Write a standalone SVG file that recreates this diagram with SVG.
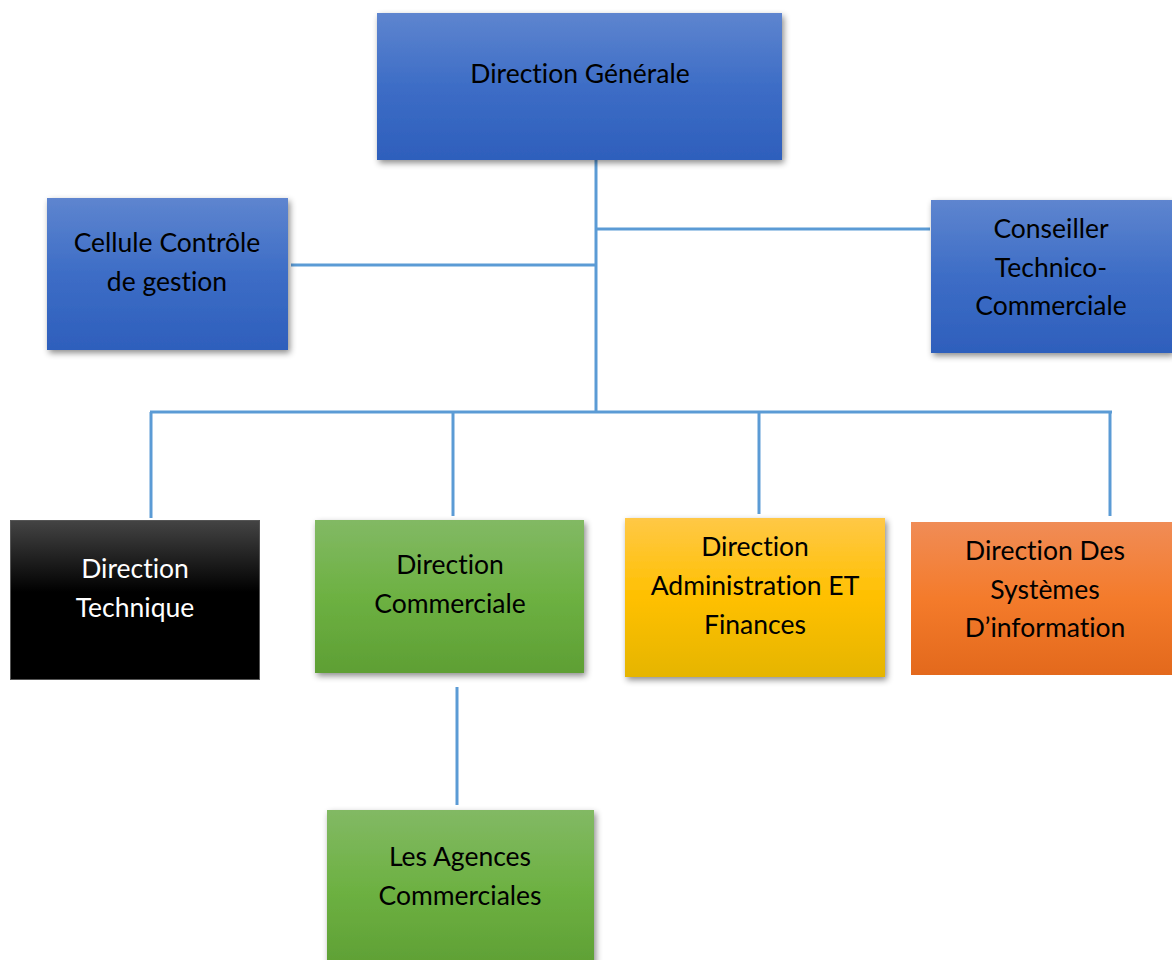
<svg xmlns="http://www.w3.org/2000/svg" width="1172" height="960" viewBox="0 0 1172 960">
<style>
.t{font-family:Lato,"Open Sans","Liberation Sans",sans-serif;font-size:26.5px;text-anchor:middle;fill:#000;font-variant-ligatures:none;font-feature-settings:"liga" 0}
.w{fill:#fff}
.c{stroke:#5B9BD5;stroke-width:3;fill:none}
</style>
<defs>
<linearGradient id="blue" x1="0" y1="0" x2="0" y2="1"><stop offset="0" stop-color="#5E85CF"/><stop offset="0.5" stop-color="#3D6DC6"/><stop offset="1" stop-color="#2E5FBC"/></linearGradient>
<linearGradient id="green" x1="0" y1="0" x2="0" y2="1"><stop offset="0" stop-color="#82B964"/><stop offset="0.5" stop-color="#6DB142"/><stop offset="1" stop-color="#5E9F34"/></linearGradient>
<linearGradient id="yellow" x1="0" y1="0" x2="0" y2="1"><stop offset="0" stop-color="#FFC846"/><stop offset="0.5" stop-color="#FFC000"/><stop offset="1" stop-color="#E5B502"/></linearGradient>
<linearGradient id="orange" x1="0" y1="0" x2="0" y2="1"><stop offset="0" stop-color="#F08C56"/><stop offset="0.5" stop-color="#F47B2B"/><stop offset="1" stop-color="#E3691C"/></linearGradient>
<linearGradient id="black" x1="0" y1="0" x2="0" y2="1"><stop offset="0" stop-color="#444"/><stop offset="0.45" stop-color="#000"/><stop offset="1" stop-color="#000"/></linearGradient>
<filter id="sh" x="-10%" y="-10%" width="125%" height="125%"><feDropShadow dx="2" dy="3" stdDeviation="3" flood-color="#000" flood-opacity="0.45"/></filter>
</defs>
<g id="connectors">
<line class="c" x1="596" y1="160" x2="596" y2="413"/>
<line class="c" x1="596" y1="229" x2="930" y2="229"/>
<line class="c" x1="291" y1="265" x2="596" y2="265"/>
<line class="c" x1="150" y1="412" x2="1112" y2="412"/>
<line class="c" x1="151" y1="412" x2="151" y2="518"/>
<line class="c" x1="453" y1="412" x2="453" y2="516"/>
<line class="c" x1="759" y1="412" x2="759" y2="514"/>
<line class="c" x1="1110" y1="412" x2="1110" y2="516"/>
<line class="c" x1="457" y1="687" x2="457" y2="805"/>
</g>
<g id="direction-generale">
<rect x="377" y="13" width="405" height="147" fill="url(#blue)" filter="url(#sh)"/>
<text class="t" x="580" y="83">Direction Générale</text>
</g>
<g id="cellule-controle">
<rect x="47" y="198" width="241" height="152" fill="url(#blue)" filter="url(#sh)"/>
<text class="t" x="167" y="252">Cellule Contrôle</text>
<text class="t" x="167" y="291">de gestion</text>
</g>
<g id="conseiller">
<rect x="931" y="200" width="241" height="153" fill="url(#blue)" filter="url(#sh)"/>
<text class="t" x="1051" y="238">Conseiller</text>
<text class="t" x="1051" y="277">Technico-</text>
<text class="t" x="1051" y="315">Commerciale</text>
</g>
<g id="direction-technique">
<rect x="10.5" y="520.5" width="249" height="159" fill="url(#black)" stroke="#555" stroke-width="1"/>
<text class="t w" x="135" y="578">Direction</text>
<text class="t w" x="135" y="617">Technique</text>
</g>
<g id="direction-commerciale">
<rect x="315" y="520" width="269" height="153" fill="url(#green)" filter="url(#sh)"/>
<text class="t" x="450" y="574">Direction</text>
<text class="t" x="450" y="613">Commerciale</text>
</g>
<g id="direction-administration">
<rect x="625" y="518" width="260" height="159" fill="url(#yellow)" filter="url(#sh)"/>
<text class="t" x="755" y="556">Direction</text>
<text class="t" x="755" y="595">Administration ET</text>
<text class="t" x="755" y="634">Finances</text>
</g>
<g id="direction-si">
<rect x="911" y="522" width="261" height="153" fill="url(#orange)"/>
<text class="t" x="1045" y="560">Direction Des</text>
<text class="t" x="1045" y="599">Systèmes</text>
<text class="t" x="1045" y="637">D’information</text>
</g>
<g id="agences">
<rect x="327" y="810" width="267" height="160" fill="url(#green)" filter="url(#sh)"/>
<text class="t" x="460" y="866">Les Agences</text>
<text class="t" x="460" y="905">Commerciales</text>
</g>
</svg>
